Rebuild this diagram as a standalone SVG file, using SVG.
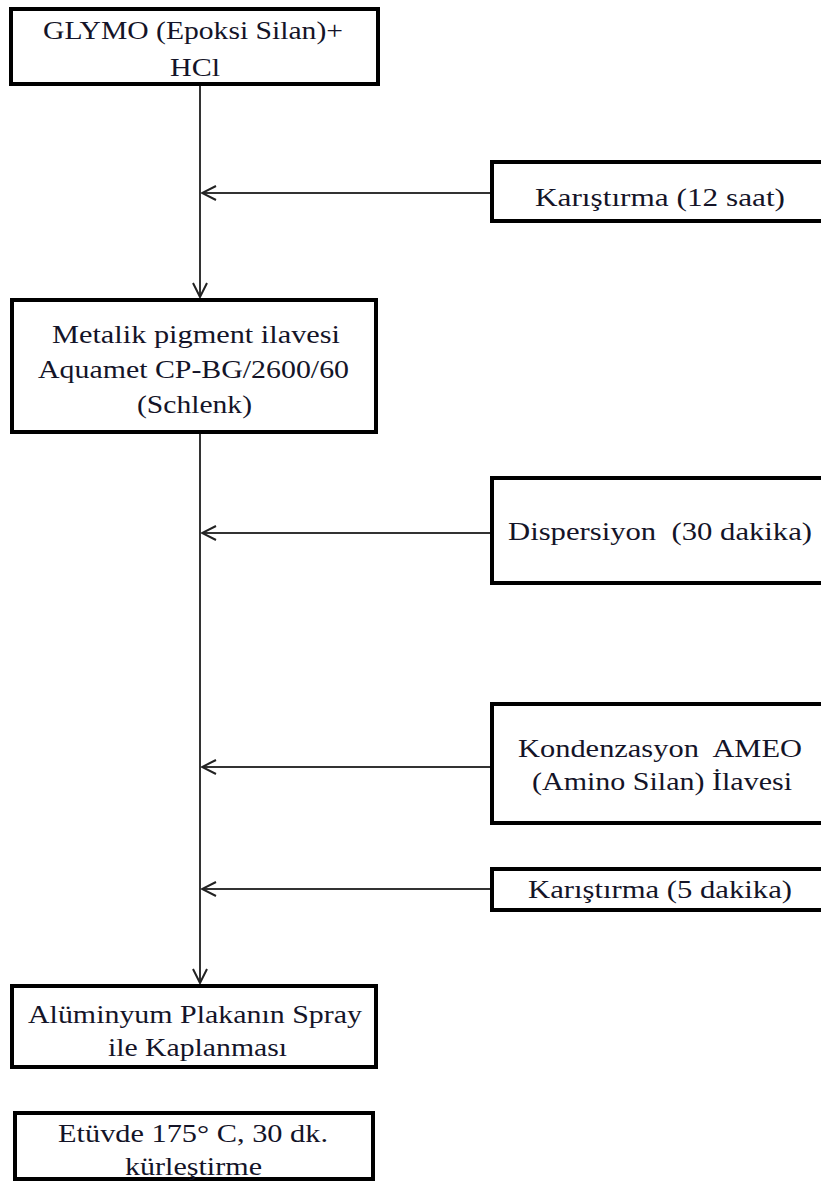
<svg xmlns="http://www.w3.org/2000/svg" width="821" height="1183" viewBox="0 0 821 1183">
<defs>
<marker id="arr" viewBox="0 0 16 16" refX="15" refY="8" markerWidth="16" markerHeight="16" markerUnits="userSpaceOnUse" orient="auto">
<path d="M1,1 L15,8 L1,15" fill="none" stroke="#222" stroke-width="2"/>
</marker>
<style>
.box{fill:#fff;stroke:#000;stroke-width:4}
.t{font-family:"Liberation Serif","Times New Roman",serif;font-size:26px;fill:#141428;text-anchor:start}
.c{fill:none;stroke:#333;stroke-width:2}
</style>
</defs>
<rect width="821" height="1183" fill="#fff"/>
<g id="connectors">
<line class="c" x1="200" y1="86" x2="200" y2="297" marker-end="url(#arr)"/>
<line class="c" x1="200" y1="434" x2="200" y2="983" marker-end="url(#arr)"/>
<line class="c" x1="490" y1="193" x2="202" y2="193" marker-end="url(#arr)"/>
<line class="c" x1="490" y1="533" x2="202" y2="533" marker-end="url(#arr)"/>
<line class="c" x1="490" y1="767" x2="202" y2="767" marker-end="url(#arr)"/>
<line class="c" x1="490" y1="889" x2="202" y2="889" marker-end="url(#arr)"/>
</g>
<g id="n1">
<rect class="box" x="11" y="9" width="367" height="75"/>
<text class="t" x="43" y="39" textLength="300" lengthAdjust="spacingAndGlyphs">GLYMO (Epoksi Silan)+</text>
<text class="t" x="170" y="76" textLength="50" lengthAdjust="spacingAndGlyphs">HCl</text>
</g>
<g id="n2">
<rect class="box" x="492" y="162" width="340" height="59"/>
<text class="t" x="535" y="206" textLength="250" lengthAdjust="spacingAndGlyphs">Karıştırma (12 saat)</text>
</g>
<g id="n3">
<rect class="box" x="12" y="300" width="364" height="132"/>
<text class="t" x="52" y="343" textLength="288" lengthAdjust="spacingAndGlyphs">Metalik pigment ilavesi</text>
<text class="t" x="38" y="378" textLength="311" lengthAdjust="spacingAndGlyphs">Aquamet CP-BG/2600/60</text>
<text class="t" x="137" y="413" textLength="115" lengthAdjust="spacingAndGlyphs">(Schlenk)</text>
</g>
<g id="n4">
<rect class="box" x="492" y="478" width="340" height="105"/>
<text class="t" x="508" y="540" textLength="304" lengthAdjust="spacingAndGlyphs" xml:space="preserve">Dispersiyon  (30 dakika)</text>
</g>
<g id="n5">
<rect class="box" x="492" y="704" width="340" height="119"/>
<text class="t" x="518" y="757" textLength="284" lengthAdjust="spacingAndGlyphs" xml:space="preserve">Kondenzasyon  AMEO</text>
<text class="t" x="532" y="790" textLength="260" lengthAdjust="spacingAndGlyphs">(Amino Silan) İlavesi</text>
</g>
<g id="n6">
<rect class="box" x="492" y="869" width="340" height="41"/>
<text class="t" x="528" y="898" textLength="264" lengthAdjust="spacingAndGlyphs">Karıştırma (5 dakika)</text>
</g>
<g id="n7">
<rect class="box" x="12" y="986" width="364" height="81"/>
<text class="t" x="28" y="1023" textLength="334" lengthAdjust="spacingAndGlyphs">Alüminyum Plakanın Spray</text>
<text class="t" x="108" y="1056" textLength="179" lengthAdjust="spacingAndGlyphs">ile Kaplanması</text>
</g>
<g id="n8">
<rect class="box" x="15" y="1113" width="358" height="66"/>
<text class="t" x="58" y="1142" textLength="270" lengthAdjust="spacingAndGlyphs">Etüvde 175° C, 30 dk.</text>
<text class="t" x="125" y="1175" textLength="137" lengthAdjust="spacingAndGlyphs">kürleştirme</text>
</g>
</svg>
